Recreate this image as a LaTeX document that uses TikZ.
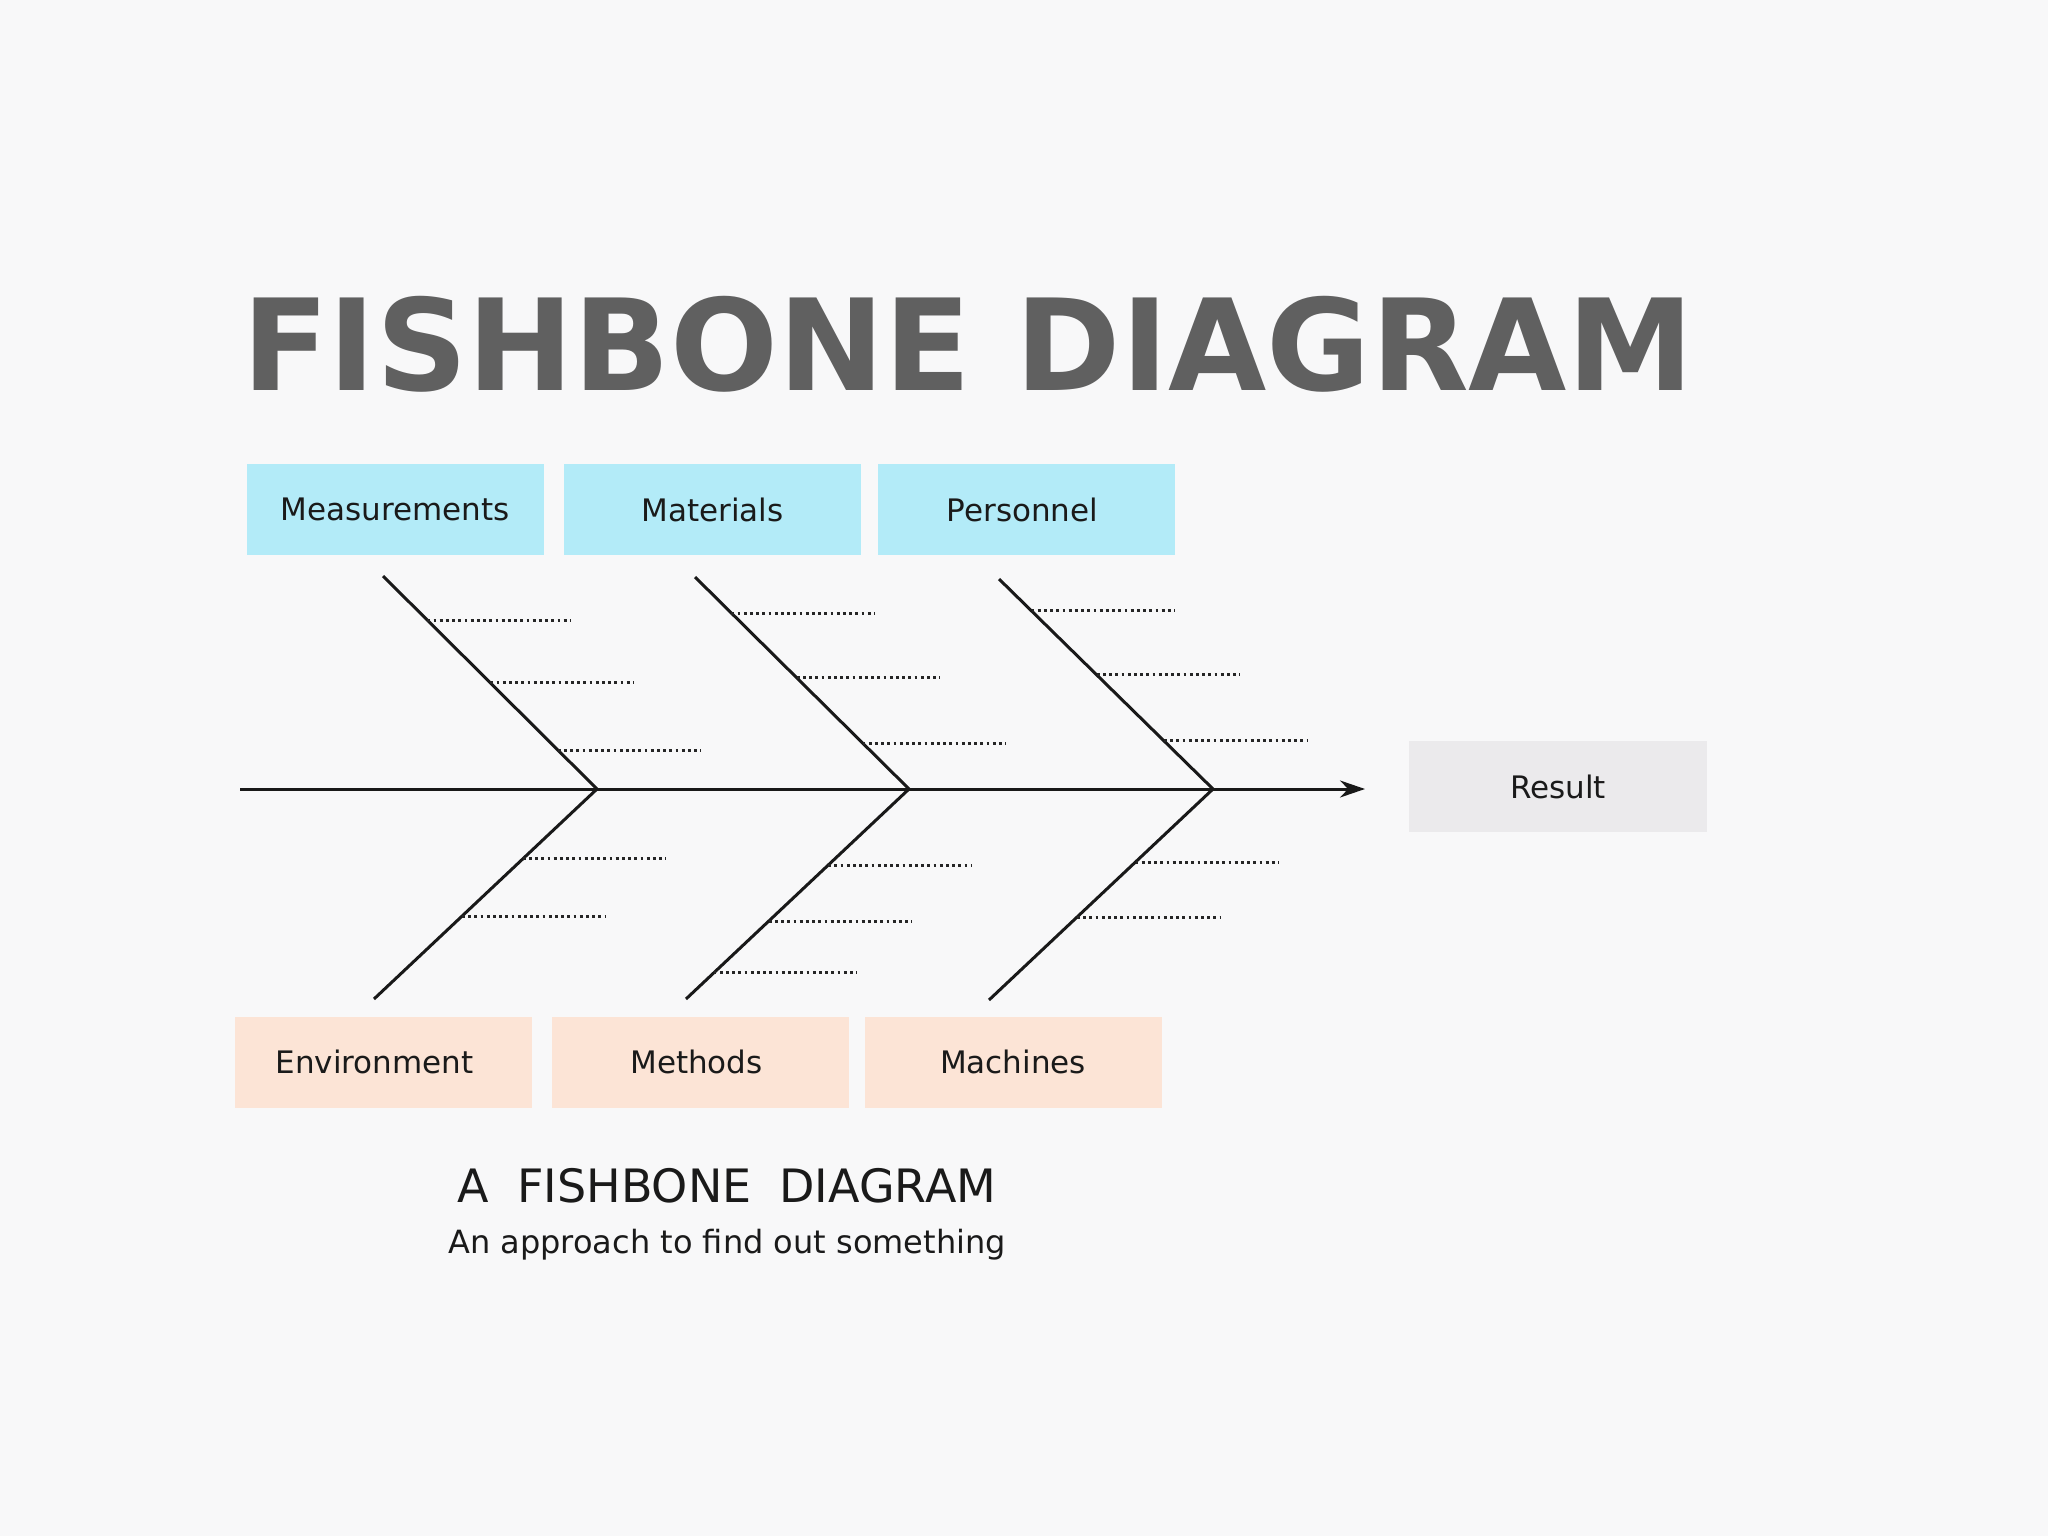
\documentclass[tikz,border=0pt]{standalone}
\usepackage{fontspec}
\setmainfont{DejaVu Sans}
\usetikzlibrary{arrows.meta,calc}
\definecolor{bgc}{HTML}{F8F8F9}
\definecolor{cyanbox}{HTML}{B3EBF8}
\definecolor{peachbox}{HTML}{FCE4D6}
\definecolor{resbox}{HTML}{EBEAEC}
\definecolor{titlec}{HTML}{606060}
\definecolor{txtc}{HTML}{1A1A1A}
\tikzset{
  catbox/.style={rectangle, minimum width=297pt, minimum height=91pt, inner sep=0pt, text=txtc, font=\fontsize{31}{36}\selectfont},
  topbox/.style={catbox, fill=cyanbox},
  botbox/.style={catbox, fill=peachbox},
  resultbox/.style={catbox, fill=resbox, minimum width=298pt},
  bone/.style={line width=3pt, draw=black!90},
  dotline/.style={line width=3pt, draw=black!85, dash pattern=on 2.8pt off 3.4pt},
}
\begin{document}
\begin{tikzpicture}[x=1pt,y=-1pt]
\fill[bgc] (0,0) rectangle (2048,1536);
\useasboundingbox (0,0) rectangle (2048,1536);
% title
\node[anchor=base west, inner sep=0pt, text=titlec, font=\fontsize{127}{140}\selectfont\bfseries] (title) at (242,390) {FISHBONE DIAGRAM};
% boxes
\node[topbox] (meas) at (395,509.5) {Measurements};
\node[topbox] (mat) at (712.5,509.5) {Materials};
\node[topbox, text width=297pt, align=center] (pers) at (1026.5,509.5) {\hspace*{-8pt}Personnel};
\node[botbox, text width=297pt, align=center] (env) at (383.5,1062) {\raisebox{-3pt}{\hspace*{-18pt}Environment}};
\node[botbox, text width=297pt, align=center] (meth) at (700.5,1062) {\hspace*{-8pt}Methods};
\node[botbox] (mach) at (1013,1062) {Machines};
\node[resultbox] (res) at (1558,786.5) {Result};
% spine
\coordinate (tail) at (240,789);
\coordinate (head) at (1365,789);
\coordinate (v1) at (597,789);
\coordinate (v2) at (909,789);
\coordinate (v3) at (1213,789);
\coordinate (u1) at (383,576);
\coordinate (u2) at (695,577);
\coordinate (u3) at (999,579);
\coordinate (l1) at (374,999);
\coordinate (l2) at (686,999);
\coordinate (l3) at (989,1000);
\draw[bone, -{Stealth[length=25pt,width=17pt]}] (tail) -- (head);
\draw[bone] (u1) -- (v1) -- (l1);
\draw[bone] (u2) -- (v2) -- (l2);
\draw[bone] (u3) -- (v3) -- (l3);
% dotted sub-bones
\foreach \t in {0.207,0.502,0.817} \draw[dotline] ($(u1)!\t!(v1)$) -- ++(143,0);
\foreach \t in {0.17,0.476,0.783} \draw[dotline] ($(u2)!\t!(v2)$) -- ++(143,0);
\foreach \t in {0.152,0.457,0.771} \draw[dotline] ($(u3)!\t!(v3)$) -- ++(143,0);
\foreach \t in {0.333,0.605} \draw[dotline] ($(v1)!\t!(l1)$) -- ++(143,0);
\foreach \t in {0.362,0.629,0.876} \draw[dotline] ($(v2)!\t!(l2)$) -- ++(143,0);
\foreach \t in {0.346,0.607} \draw[dotline] ($(v3)!\t!(l3)$) -- ++(143,0);
% caption
\node[anchor=base, inner sep=0pt, text=txtc, font=\fontsize{46}{52}\selectfont] (cap) at (727,1202) {A\hspace{28pt}FISHBONE\hspace{28pt}DIAGRAM};
\node[anchor=base, inner sep=0pt, text=txtc, font=\fontsize{32}{38}\selectfont] (sub) at (727,1253) {An approach to find out something};
\end{tikzpicture}
\end{document}
